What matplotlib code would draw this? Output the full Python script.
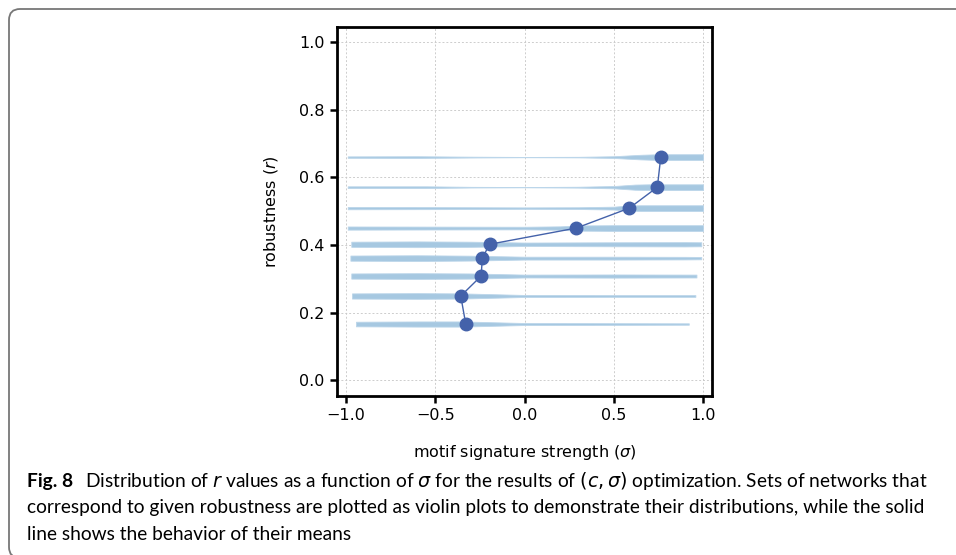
import matplotlib
matplotlib.use("Agg")
import matplotlib.pyplot as plt
from matplotlib.patches import FancyBboxPatch
from matplotlib.transforms import IdentityTransform
import numpy as np

# robustness levels (y) and mean motif signature strength (x)
levels = [0.660, 0.571, 0.509, 0.450, 0.402, 0.361, 0.308, 0.249, 0.166]
means = [0.763, 0.744, 0.587, 0.290, -0.196, -0.236, -0.243, -0.357, -0.329]

# violin shapes: sigma knots and relative density at each knot
v_sigma = [
    [-0.99, -0.6, -0.3, 0.0, 0.3, 0.5, 0.65, 0.75, 1.0],
    [-0.99, -0.55, -0.3, 0.0, 0.3, 0.5, 0.62, 0.7, 1.0],
    [-0.99, -0.5, 0.0, 0.3, 0.5, 0.58, 0.65, 1.0],
    [-0.99, -0.5, 0.0, 0.2, 0.3, 0.5, 1.0],
    [-0.97, -0.6, -0.3, 0.0, 0.5, 0.9, 0.99],
    [-0.975, -0.6, -0.3, 0.0, 0.5, 0.9, 0.99],
    [-0.97, -0.6, -0.3, 0.0, 0.5, 0.963],
    [-0.966, -0.6, -0.35, 0.0, 0.5, 0.957],
    [-0.944, -0.6, -0.35, 0.0, 0.5, 0.92],
]
v_dens = [
    [0.25, 0.3, 0.15, 0.05, 0.1, 0.3, 0.8, 1.0, 1.0],
    [0.3, 0.3, 0.12, 0.05, 0.15, 0.4, 0.9, 1.0, 1.0],
    [0.4, 0.35, 0.25, 0.3, 0.5, 0.9, 1.0, 1.0],
    [0.55, 0.5, 0.45, 0.6, 0.9, 1.0, 1.0],
    [0.9, 1.0, 0.9, 0.6, 0.7, 0.75, 0.7],
    [0.9, 1.0, 0.85, 0.5, 0.5, 0.45, 0.4],
    [0.9, 1.0, 0.9, 0.5, 0.55, 0.5],
    [0.9, 1.0, 0.9, 0.35, 0.3, 0.3],
    [0.8, 0.9, 0.9, 0.35, 0.3, 0.25],
]

ticks = [-1.0, -0.5, 0.0, 0.5, 1.0]
yticks = [0.0, 0.2, 0.4, 0.6, 0.8, 1.0]

fig = plt.figure(figsize=(9.56, 5.55), dpi=100)

# rounded frame (pixel coords), runs off the right and bottom edges
frame = FancyBboxPatch((9, -3), 1200, 549,
                       boxstyle="round,pad=0,rounding_size=11",
                       transform=IdentityTransform(), fill=False,
                       edgecolor="#777777", linewidth=1.3, clip_on=False)
fig.patches.append(frame)

ax = fig.add_axes([337 / 956, 1 - 396 / 555, 375 / 956, 369 / 555])
ax.set_xlim(-1.05, 1.05)
ax.set_ylim(-0.047, 1.045)

half = 0.0085
for y, xs, ds in zip(levels, v_sigma, v_dens):
    xs = np.array(xs)
    ds = np.array(ds) * half
    ax.fill_between(xs, y - ds, y + ds, color="#a6c8e1", linewidth=0.6,
                    edgecolor="#bcd6ea", zorder=2)

ax.plot(means, levels, "-o", color="#4462aa", linewidth=1.0,
        markersize=9, zorder=3)

ax.set_xticks(ticks)
ax.set_yticks(yticks)
ax.grid(True, color="#c8c8c8", linestyle=(0, (2, 2)), linewidth=0.7, alpha=0.9)
ax.set_axisbelow(True)
for s in ax.spines.values():
    s.set_linewidth(2.0)
ax.tick_params(width=1.8, length=5, labelsize=11.5, pad=4)
ax.set_xlabel(r"motif signature strength ($\sigma$)", fontsize=11.5, labelpad=14)
ax.set_ylabel(r"robustness ($r$)", fontsize=11.5, labelpad=14)

# caption
cap_font = ["Lato", "DejaVu Sans"]
fs = 13.8
fig.text(27 / 956, 1 - 481 / 555, "Fig. 8", fontsize=fs, fontweight="bold",
         family=cap_font, va="center", ha="left")
fig.text(85 / 956, 1 - 481 / 555,
         r"Distribution of $r$ values as a function of $\sigma$ for the results of "
         r"$(c, \sigma)$ optimization. Sets of networks that",
         fontsize=fs, family=cap_font, va="center", ha="left")
fig.text(27 / 956, 1 - 508 / 555,
         "correspond to given robustness are plotted as violin plots to demonstrate "
         "their distributions, while the solid",
         fontsize=fs, family=cap_font, va="center", ha="left")
fig.text(27 / 956, 1 - 535 / 555, "line shows the behavior of their means",
         fontsize=fs, family=cap_font, va="center", ha="left")

fig.savefig("out.png", dpi=100)
